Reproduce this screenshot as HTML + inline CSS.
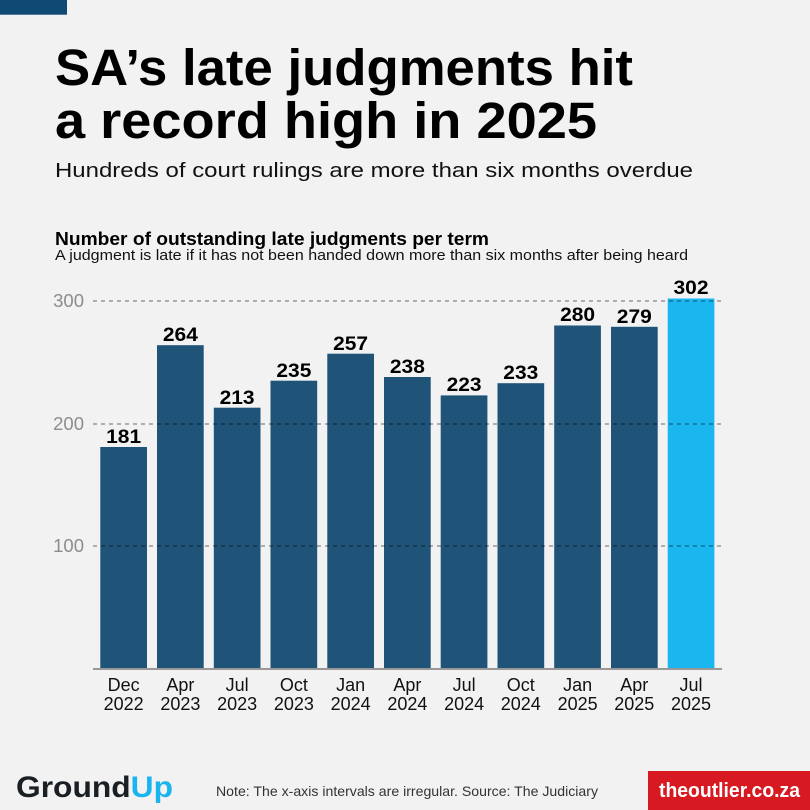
<!DOCTYPE html>
<html><head><meta charset="utf-8"><style>
html,body{margin:0;padding:0;background:#f2f2f2;}
svg{display:block;font-family:"Liberation Sans",sans-serif;}
</style></head><body>
<svg width="810" height="810" viewBox="0 0 810 810" xmlns="http://www.w3.org/2000/svg">
<rect width="810" height="810" fill="#f2f2f2"/>
<rect x="0" y="0" width="67" height="14.7" fill="#0e4a74"/>
<text x="55" y="85" font-size="51" font-weight="bold" fill="#000" textLength="578" lengthAdjust="spacingAndGlyphs">SA’s late judgments hit</text>
<text x="55" y="138" font-size="51" font-weight="bold" fill="#000" textLength="542" lengthAdjust="spacingAndGlyphs">a record high in 2025</text>
<text x="55" y="177" font-size="20" fill="#111" textLength="638" lengthAdjust="spacingAndGlyphs">Hundreds of court rulings are more than six months overdue</text>
<text x="55" y="245" font-size="18" font-weight="bold" fill="#000" textLength="434" lengthAdjust="spacingAndGlyphs">Number of outstanding late judgments per term</text>
<text x="55" y="260" font-size="15" fill="#111" textLength="633" lengthAdjust="spacingAndGlyphs">A judgment is late if it has not been handed down more than six months after being heard</text>

<g font-size="18.5" fill="#8c8c8c" text-anchor="end">
<text x="84" y="307">300</text>
<text x="84" y="430">200</text>
<text x="84" y="552">100</text>
</g>

<g fill="#1f5378">
<rect x="100.3" y="447.0" width="46.7" height="222.0"/>
<rect x="157.0" y="345.2" width="46.7" height="323.8"/>
<rect x="213.8" y="407.7" width="46.7" height="261.3"/>
<rect x="270.5" y="380.7" width="46.7" height="288.3"/>
<rect x="327.3" y="353.7" width="46.7" height="315.3"/>
<rect x="384.0" y="377.0" width="46.7" height="292.0"/>
<rect x="440.7" y="395.4" width="46.7" height="273.6"/>
<rect x="497.5" y="383.2" width="46.7" height="285.8"/>
<rect x="554.2" y="325.5" width="46.7" height="343.5"/>
<rect x="611.0" y="326.8" width="46.7" height="342.2"/>
</g>
<rect x="667.7" y="298.5" width="46.7" height="370.5" fill="#1ab6f0"/>

<g stroke="#000" stroke-opacity="0.45" stroke-width="1.2" stroke-dasharray="4,4">
<line x1="93" y1="301" x2="723" y2="301"/>
<line x1="93" y1="424" x2="723" y2="424"/>
<line x1="93" y1="546" x2="723" y2="546"/>
</g>
<line x1="93" y1="669" x2="722" y2="669" stroke="#999" stroke-width="2"/>

<g font-size="19" font-weight="bold" fill="#000">
<text x="106.15" y="443" textLength="35" lengthAdjust="spacingAndGlyphs">181</text>
<text x="162.9" y="341" textLength="35" lengthAdjust="spacingAndGlyphs">264</text>
<text x="219.6" y="404" textLength="35" lengthAdjust="spacingAndGlyphs">213</text>
<text x="276.4" y="377" textLength="35" lengthAdjust="spacingAndGlyphs">235</text>
<text x="333.1" y="350" textLength="35" lengthAdjust="spacingAndGlyphs">257</text>
<text x="389.9" y="373" textLength="35" lengthAdjust="spacingAndGlyphs">238</text>
<text x="446.6" y="391" textLength="35" lengthAdjust="spacingAndGlyphs">223</text>
<text x="503.3" y="379" textLength="35" lengthAdjust="spacingAndGlyphs">233</text>
<text x="560.1" y="321" textLength="35" lengthAdjust="spacingAndGlyphs">280</text>
<text x="616.8" y="323" textLength="35" lengthAdjust="spacingAndGlyphs">279</text>
<text x="673.5" y="294" textLength="35" lengthAdjust="spacingAndGlyphs">302</text>
</g>

<g font-size="18" fill="#111" text-anchor="middle">
<text x="123.65" y="691">Dec</text><text x="123.65" y="710">2022</text>
<text x="180.4" y="691">Apr</text><text x="180.4" y="710">2023</text>
<text x="237.1" y="691">Jul</text><text x="237.1" y="710">2023</text>
<text x="293.9" y="691">Oct</text><text x="293.9" y="710">2023</text>
<text x="350.6" y="691">Jan</text><text x="350.6" y="710">2024</text>
<text x="407.4" y="691">Apr</text><text x="407.4" y="710">2024</text>
<text x="464.1" y="691">Jul</text><text x="464.1" y="710">2024</text>
<text x="520.8" y="691">Oct</text><text x="520.8" y="710">2024</text>
<text x="577.6" y="691">Jan</text><text x="577.6" y="710">2025</text>
<text x="634.3" y="691">Apr</text><text x="634.3" y="710">2025</text>
<text x="691.0" y="691">Jul</text><text x="691.0" y="710">2025</text>
</g>

<text x="16" y="797" font-size="30" font-weight="bold" fill="#1a1f24" textLength="157" lengthAdjust="spacingAndGlyphs">Ground<tspan fill="#1ab4ee">Up</tspan></text>
<text x="216" y="796" font-size="14" fill="#333" textLength="382" lengthAdjust="spacingAndGlyphs">Note: The x-axis intervals are irregular. Source: The Judiciary</text>
<rect x="648" y="771" width="162" height="39" fill="#d71a21"/>
<text x="659" y="797" font-size="20" font-weight="bold" fill="#fff" textLength="141" lengthAdjust="spacingAndGlyphs">theoutlier.co.za</text>
</svg>
</body></html>
